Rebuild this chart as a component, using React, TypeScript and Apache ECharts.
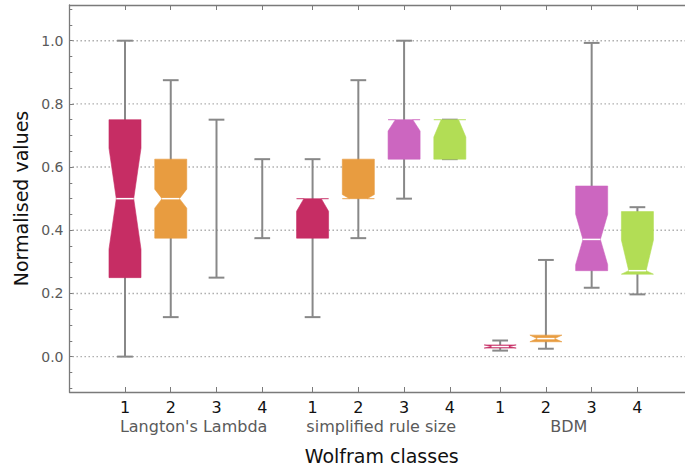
import React, { useEffect, useRef } from "react";
import * as echarts from "echarts";

const classLabels = ["1", "2", "3", "4"];
const groupNames = ["Langton's Lambda", "simplified rule size", "BDM"];
const positions = [1, 2, 3, 4, 5.1, 6.1, 7.1, 8.1, 9.2, 10.2, 11.2, 12.2];
const groupCenters = [2.5, 6.6, 10.7];
const classIndex = [0, 1, 2, 3, 0, 1, 2, 3, 0, 1, 2, 3];

const mins = [0.0, 0.125, 0.25, 0.375, 0.125, 0.375, 0.5, 0.625, 0.019, 0.025, 0.218, 0.197];
const q1s = [0.25, 0.375, 0.5, 0.5, 0.375, 0.5, 0.625, 0.625, 0.027, 0.047, 0.272, 0.261];
const medians = [0.5, 0.5, 0.5, 0.5, 0.5, 0.5, 0.75, 0.75, 0.032, 0.057, 0.371, 0.272];
const q3s = [0.75, 0.625, 0.5, 0.5, 0.5, 0.625, 0.75, 0.75, 0.037, 0.068, 0.54, 0.459];
const maxs = [1.0, 0.875, 0.75, 0.625, 0.625, 0.875, 1.0, 0.75, 0.051, 0.306, 0.993, 0.473];
const notches = [0.16, 0.03, 0, 0, 0.04, 0.013, 0.036, 0.055, 0.02, 0.02, 0.08, 0.097];

const classColors = ["#C62D64", "#E89C40", "#CC66C0", "#B2DD55"];

const yMajorTicks = [0, 0.2, 0.4, 0.6, 0.8, 1.0];
const yMinorTicks = [-0.1, -0.05, 0.05, 0.1, 0.15, 0.25, 0.3, 0.35, 0.45, 0.5, 0.55, 0.65, 0.7, 0.75, 0.85, 0.9, 0.95, 1.05, 1.1];

const X_MIN = -0.213;
const X_MAX = 13.24;
const Y_MIN = -0.112;
const Y_MAX = 1.113;

const FONT = "DejaVu Sans";

export default function App() {
  const ref = useRef<HTMLDivElement>(null);

  useEffect(() => {
    if (!ref.current) return;
    const chart = echarts.init(ref.current, null, { renderer: "svg" });

    const boxData = positions.map((p, i) => [
      p, mins[i], q1s[i], medians[i], q3s[i], maxs[i], notches[i], classIndex[i],
    ]);

    const boxHalf = 0.35;
    const notchHalf = 0.19;
    const capHalf = 0.172;

    const axisColor = "#7a7a7a";

    const option: any = {
      animation: false,
      backgroundColor: "#ffffff",
      grid: {
        left: 69.5, top: 5, right: 0, bottom: 78,
        containLabel: false, outerBoundsMode: "none",
      },
      xAxis: [
        {
          type: "value",
          position: "bottom",
          min: X_MIN,
          max: X_MAX,
          splitLine: { show: false },
          axisLine: { show: true, onZero: false, lineStyle: { color: axisColor, width: 1.3 } },
          axisTick: {
            show: true, inside: true, length: 5, customValues: positions,
            lineStyle: { color: axisColor, width: 1 },
          },
          axisLabel: {
            show: true,
            customValues: positions,
            margin: 8.5,
            color: "#111",
            fontSize: 16,
            lineHeight: 14,
            fontFamily: FONT,
            formatter: (v: number) => {
              const idx = positions.findIndex((p) => Math.abs(p - v) < 1e-6);
              return idx >= 0 ? classLabels[classIndex[idx]] : "";
            },
          },
          name: "Wolfram classes",
          nameLocation: "middle",
          nameGap: 54,
          nameTextStyle: { color: "#111", fontSize: 19, fontFamily: FONT, padding: [0, 0, 0, 9] },
        },
        {
          type: "value",
          position: "bottom",
          min: X_MIN,
          max: X_MAX,
          splitLine: { show: false },
          axisLine: { show: false, onZero: false },
          axisTick: { show: false },
          axisLabel: {
            show: true,
            customValues: groupCenters,
            margin: 26.5,
            color: "#5a5a5a",
            fontSize: 16,
            lineHeight: 16,
            fontFamily: FONT,
            formatter: (v: number) => {
              const idx = groupCenters.findIndex((p) => Math.abs(p - v) < 1e-6);
              return idx >= 0 ? groupNames[idx] : "";
            },
          },
        },
        {
          type: "value",
          position: "top",
          min: X_MIN,
          max: X_MAX,
          splitLine: { show: false },
          axisLine: { show: true, onZero: false, lineStyle: { color: axisColor, width: 1.3 } },
          axisTick: {
            show: true, inside: true, length: 5, customValues: positions,
            lineStyle: { color: axisColor, width: 1 },
          },
          axisLabel: { show: false },
        },
      ],
      yAxis: [
        {
          type: "value",
          position: "left",
          min: Y_MIN,
          max: Y_MAX,
          splitLine: { show: false },
          axisLine: { show: true, onZero: false, lineStyle: { color: axisColor, width: 1.3 } },
          axisTick: {
            show: true, inside: true, length: 4.5, customValues: yMajorTicks,
            lineStyle: { color: axisColor, width: 1 },
          },
          axisLabel: {
            show: true,
            customValues: yMajorTicks,
            margin: 6,
            color: "#5a5a5a",
            fontSize: 14,
            fontFamily: FONT,
            formatter: (v: number) => v.toFixed(1),
          },
          name: "Normalised values",
          nameLocation: "middle",
          nameGap: 36,
          nameTextStyle: { color: "#111", fontSize: 19, fontFamily: FONT },
        },
        {
          type: "value",
          position: "left",
          min: Y_MIN,
          max: Y_MAX,
          splitLine: { show: false },
          axisLine: { show: false, onZero: false },
          axisTick: {
            show: true, inside: true, length: 2.8, customValues: yMinorTicks,
            lineStyle: { color: axisColor, width: 1 },
          },
          axisLabel: { show: false },
        },
      ],
      series: [
        {
          type: "custom",
          name: "grid",
          xAxisIndex: 0,
          yAxisIndex: 0,
          z: 1,
          silent: true,
          data: yMajorTicks.map((v) => [v]),
          encode: { y: 0 },
          renderItem: (params: any, api: any) => {
            const cs = params.coordSys;
            const y = api.coord([X_MIN, api.value(0)])[1];
            return {
              type: "line",
              shape: { x1: cs.x + 3, y1: y, x2: cs.x + cs.width, y2: y },
              style: { stroke: "#a8a8a8", lineWidth: 1.4, lineDash: [1.4, 2.6] },
            };
          },
        },
        {
          type: "custom",
          name: "boxes",
          xAxisIndex: 0,
          yAxisIndex: 0,
          z: 3,
          data: boxData,
          encode: { x: 0, y: [1, 2, 3, 4, 5] },
          renderItem: (params: any, api: any) => {
            const x = api.value(0);
            const mn = api.value(1);
            const q1 = api.value(2);
            const md = api.value(3);
            const q3 = api.value(4);
            const mx = api.value(5);
            const nt = api.value(6);
            const ci = api.value(7);
            const color = classColors[ci];
            const [cx, yMin] = api.coord([x, mn]);
            const yMax = api.coord([x, mx])[1];
            const yQ1 = api.coord([x, q1])[1];
            const yQ3 = api.coord([x, q3])[1];
            const yMd = api.coord([x, md])[1];
            const yNU = api.coord([x, Math.min(md + nt, q3)])[1];
            const yNL = api.coord([x, Math.max(md - nt, q1)])[1];
            const hw = api.size([boxHalf, 0])[0];
            const nw = api.size([notchHalf, 0])[0];
            const cw = api.size([capHalf, 0])[0];
            const wStyle = { stroke: "#888888", lineWidth: 2 };
            const children: any[] = [
              { type: "line", shape: { x1: cx, y1: yMin, x2: cx, y2: yMax }, style: wStyle },
              { type: "line", shape: { x1: cx - cw, y1: yMin, x2: cx + cw, y2: yMin }, style: wStyle },
              { type: "line", shape: { x1: cx - cw, y1: yMax, x2: cx + cw, y2: yMax }, style: wStyle },
            ];
            if (q3 > q1) {
              children.push({
                type: "polygon",
                shape: {
                  points: [
                    [cx - hw, yQ3], [cx + hw, yQ3], [cx + hw, yNU], [cx + nw, yMd],
                    [cx + hw, yNL], [cx + hw, yQ1], [cx - hw, yQ1], [cx - hw, yNL],
                    [cx - nw, yMd], [cx - hw, yNU],
                  ],
                },
                style: { fill: color, stroke: color, lineWidth: 0.6 },
              });
              if (md > q1 && md < q3) {
                children.push({
                  type: "line",
                  shape: { x1: cx - nw, y1: yMd, x2: cx + nw, y2: yMd },
                  style: { stroke: "#ffffff", lineWidth: 1.5 },
                });
              }
            }
            return { type: "group", children };
          },
        },
      ],
    };

    chart.setOption(option);
    return () => chart.dispose();
  }, []);

  return (
    <div
      ref={ref}
      style={{ position: "fixed", left: 0, top: 0, width: 685, height: 470, background: "#fff" }}
    />
  );
}
